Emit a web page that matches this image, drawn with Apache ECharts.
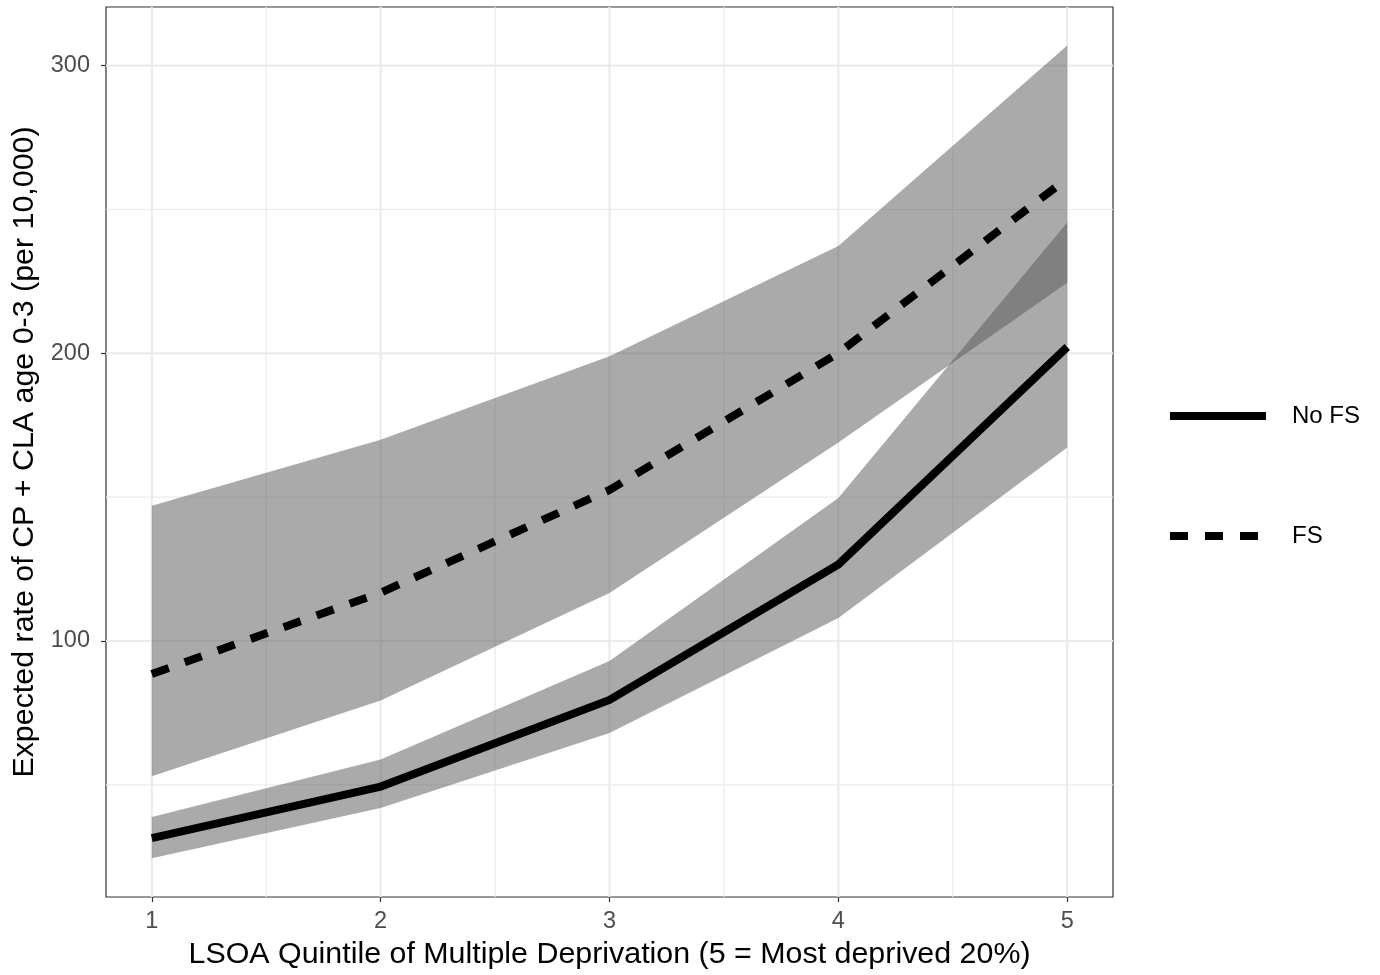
<!DOCTYPE html>
<html>
<head>
<meta charset="utf-8">
<script src="https://cdn.jsdelivr.net/npm/echarts@6/dist/echarts.min.js"></script>
<style>
html,body{margin:0;padding:0;background:#fff;}
#chart{width:1380px;height:975px;}
</style>
</head>
<body>
<div id="chart"></div>
<script>
// ---- data ----
var quintiles = [1, 2, 3, 4, 5];
var noFsRate  = [31.5, 49.4, 79.5, 126.6, 202.2];
var noFsLower = [24.5, 41.9, 68.0, 108.0, 167.3];
var noFsUpper = [38.8, 58.8, 93.0, 149.7, 245.5];
var fsRate    = [88.5, 116.8, 152.5, 200.1, 260.8];
var fsLower   = [53.0, 79.3, 116.7, 169.0, 224.5];
var fsUpper   = [147.0, 170.0, 199.0, 237.3, 307.0];
var xTicks = [1, 2, 3, 4, 5];
var xMinor = [1.5, 2.5, 3.5, 4.5];
var yTicks = [100, 200, 300];
var yMinor = [50, 150, 250];
var seriesNames = ['No FS', 'FS'];

var X_MIN = 0.8, X_MAX = 5.2, Y_MIN = 11, Y_MAX = 320.4;

function pairs(xs, ys) { return xs.map(function (x, i) { return [x, ys[i]]; }); }

function bandRenderer(lower, upper) {
  return function (params, api) {
    var pts = [];
    for (var i = 0; i < quintiles.length; i++) pts.push(api.coord([quintiles[i], upper[i]]));
    for (var j = quintiles.length - 1; j >= 0; j--) pts.push(api.coord([quintiles[j], lower[j]]));
    return { type: 'polygon', shape: { points: pts }, style: { fill: 'rgba(85,85,85,0.5)' } };
  };
}

function gridRenderer(params, api) {
  var children = [];
  function vline(x, w) {
    var a = api.coord([x, Y_MIN]), b = api.coord([x, Y_MAX]);
    children.push({ type: 'line', shape: { x1: a[0], y1: a[1], x2: b[0], y2: b[1] }, style: { stroke: '#ebebeb', lineWidth: w } });
  }
  function hline(y, w) {
    var a = api.coord([X_MIN, y]), b = api.coord([X_MAX, y]);
    children.push({ type: 'line', shape: { x1: a[0], y1: a[1], x2: b[0], y2: b[1] }, style: { stroke: '#ebebeb', lineWidth: w } });
  }
  xMinor.forEach(function (v) { vline(v, 1.2); });
  yMinor.forEach(function (v) { hline(v, 1.2); });
  xTicks.forEach(function (v) { vline(v, 2.2); });
  yTicks.forEach(function (v) { hline(v, 2.2); });
  return { type: 'group', children: children };
}

var chart = echarts.init(document.getElementById('chart'), null, { renderer: 'canvas' });
var FONT = '"Liberation Sans", Arial, Helvetica, sans-serif';

chart.setOption({
  animation: false,
  backgroundColor: '#ffffff',
  textStyle: { fontFamily: FONT },
  grid: { left: 106, right: 267, top: 7, bottom: 78, show: true, borderColor: '#333333', borderWidth: 1.2, backgroundColor: 'transparent', containLabel: false },
  legend: {
    orient: 'vertical',
    left: 1161,
    top: 399,
    itemWidth: 96,
    itemHeight: 24,
    itemGap: 96,
    data: seriesNames,
    itemStyle: { opacity: 0 },
    lineStyle: { width: 8 },
    textStyle: { fontFamily: FONT, fontSize: 24, color: '#000', padding: [0, 0, 0, 21] }
  },
  xAxis: {
    type: 'value',
    min: X_MIN, max: X_MAX,
    name: 'LSOA Quintile of Multiple Deprivation (5 = Most deprived 20%)',
    nameLocation: 'middle',
    nameGap: 43,
    nameTextStyle: { fontFamily: FONT, fontSize: 30.4, color: '#000' },
    axisLine: { show: false },
    axisTick: { show: true, length: 5, lineStyle: { color: '#333', width: 1.2 }, customValues: xTicks },
    axisLabel: { fontFamily: FONT, fontSize: 23.5, color: '#4d4d4d', margin: 13, customValues: xTicks },
    splitLine: { show: false }
  },
  yAxis: {
    type: 'value',
    min: Y_MIN, max: Y_MAX,
    name: 'Expected rate of CP + CLA age 0-3 (per 10,000)',
    nameLocation: 'middle',
    nameGap: 64,
    nameRotate: 90,
    nameTextStyle: { fontFamily: FONT, fontSize: 30.4, color: '#000' },
    axisLine: { show: false },
    axisTick: { show: true, length: 5, lineStyle: { color: '#333', width: 1.2 }, customValues: yTicks },
    axisLabel: { fontFamily: FONT, fontSize: 23.5, color: '#4d4d4d', margin: 16, customValues: yTicks },
    splitLine: { show: false }
  },
  series: [
    { type: 'custom', name: 'grid', silent: true, z: 0, data: [[1, 100]], renderItem: gridRenderer, clip: true },
    { type: 'custom', name: 'bandNoFS', silent: true, z: 1, data: [[1, noFsRate[0]]], renderItem: bandRenderer(noFsLower, noFsUpper), clip: true },
    { type: 'custom', name: 'bandFS', silent: true, z: 1, data: [[1, fsRate[0]]], renderItem: bandRenderer(fsLower, fsUpper), clip: true },
    {
      type: 'line', name: seriesNames[0], z: 3, symbol: 'none',
      data: pairs(quintiles, noFsRate),
      lineStyle: { color: '#000', width: 8, type: 'solid', cap: 'butt', join: 'miter' },
      itemStyle: { color: '#000' }
    },
    {
      type: 'line', name: seriesNames[1], z: 3, symbol: 'none',
      data: pairs(quintiles, fsRate),
      lineStyle: { color: '#000', width: 8, type: [18, 17], cap: 'butt', join: 'miter' },
      itemStyle: { color: '#000' }
    }
  ]
});
</script>
</body>
</html>
